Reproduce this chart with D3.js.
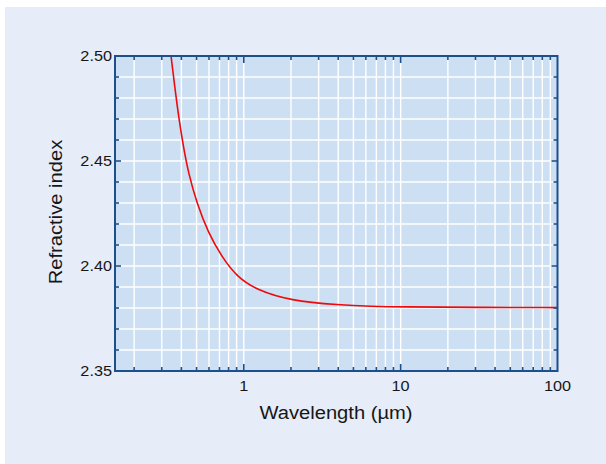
<!DOCTYPE html>
<html>
<head>
<meta charset="utf-8">
<script src="https://cdn.jsdelivr.net/npm/d3@7/dist/d3.min.js"></script>
<style>
  html, body { margin: 0; padding: 0; background: #ffffff; }
  svg { display: block; }
  text { font-family: "Liberation Sans", Arial, Helvetica, sans-serif; fill: #161616; }
</style>
</head>
<body>
<svg id="chart" width="606" height="464"></svg>
<script>
// ---- data ----
const wavelength = [0.344, 0.365, 0.387, 0.412, 0.444, 0.502, 0.595, 0.724, 0.902, 1.21, 1.97, 4.11, 6.5, 10, 30, 100];
const refractiveIndex = [2.4998, 2.4838, 2.4695, 2.4568, 2.4441, 2.4299, 2.4156, 2.4044, 2.3949, 2.3886, 2.3835, 2.3814, 2.3808, 2.3805, 2.3803, 2.3802];
const xDomain = [0.151, 100];
const yDomain = [2.35, 2.50];
const xTickLabels = [1, 10, 100];
const yTickLabels = [2.35, 2.40, 2.45, 2.50];
const xTitle = "Wavelength (µm)";
const yTitle = "Refractive index";

// ---- layout ----
const W = 606, H = 464;
const plot = { left: 115, right: 557.5, top: 56, bottom: 371 };
const axisColor = "#1d4f8b";
const stretch = 1.12;

const svg = d3.select("#chart");

svg.append("rect").attr("x", 5).attr("y", 7).attr("width", W - 5).attr("height", H - 7)
  .attr("fill", "#e6ecf8");

const x = d3.scaleLog().domain(xDomain).range([plot.left, plot.right]);
const y = d3.scaleLinear().domain(yDomain).range([plot.bottom, plot.top]);

svg.append("rect").attr("x", plot.left).attr("y", plot.top)
  .attr("width", plot.right - plot.left).attr("height", plot.bottom - plot.top)
  .attr("fill", "#cddff3");

// minor/major x positions (log)
const xAll = [];
[0.1, 1, 10].forEach(dec => { for (let k = 1; k <= 9; k++) { const v = dec * k; if (v > xDomain[0] && v < xDomain[1]) xAll.push(v); } });
const yAll = d3.range(0, 16).map(i => +(yDomain[0] + i * 0.01).toFixed(2));
const isMajorX = v => xTickLabels.includes(Math.round(v * 1000) / 1000);
const isMajorY = v => yTickLabels.some(t => Math.abs(t - v) < 1e-6);

const grid = svg.append("g");
grid.selectAll("line.vx").data(xAll).join("line")
  .attr("x1", d => x(d)).attr("x2", d => x(d))
  .attr("y1", plot.top).attr("y2", plot.bottom)
  .attr("stroke", "#ffffff").attr("stroke-width", 1.4);
grid.selectAll("line.hy").data(yAll.filter(v => v > yDomain[0] && v < yDomain[1])).join("line")
  .attr("x1", plot.left).attr("x2", plot.right)
  .attr("y1", d => y(d)).attr("y2", d => y(d))
  .attr("stroke", "#ffffff").attr("stroke-width", 1.4);

// curve
svg.append("clipPath").attr("id", "clip").append("rect")
  .attr("x", plot.left).attr("y", plot.top)
  .attr("width", plot.right - plot.left).attr("height", plot.bottom - plot.top);
const pts = wavelength.map((w, i) => [w, refractiveIndex[i]]);
const line = d3.line().x(d => x(d[0])).y(d => y(d[1])).curve(d3.curveBasis);
svg.append("path").datum(pts).attr("d", line)
  .attr("fill", "none").attr("stroke", "#ee0a0a").attr("stroke-width", 1.6)
  .attr("clip-path", "url(#clip)");

// ticks (inward on all four sides)
const ticks = svg.append("g").attr("stroke", axisColor).attr("stroke-width", 1.6);
xAll.forEach(v => {
  const len = isMajorX(v) ? 7 : 4;
  ticks.append("line").attr("x1", x(v)).attr("x2", x(v)).attr("y1", plot.bottom).attr("y2", plot.bottom - len);
  ticks.append("line").attr("x1", x(v)).attr("x2", x(v)).attr("y1", plot.top).attr("y2", plot.top + len);
});
yAll.forEach(v => {
  const len = isMajorY(v) ? 6 : 4;
  ticks.append("line").attr("y1", y(v)).attr("y2", y(v)).attr("x1", plot.left).attr("x2", plot.left + len);
  ticks.append("line").attr("y1", y(v)).attr("y2", y(v)).attr("x1", plot.right).attr("x2", plot.right - len);
});

// frame
svg.append("rect").attr("x", plot.left).attr("y", plot.top)
  .attr("width", plot.right - plot.left).attr("height", plot.bottom - plot.top)
  .attr("fill", "none").attr("stroke", axisColor).attr("stroke-width", 2);

function stretchText(sel) {
  sel.each(function () {
    const l = this.getComputedTextLength();
    d3.select(this).attr("textLength", l * stretch).attr("lengthAdjust", "spacingAndGlyphs");
  });
}

// tick labels
svg.append("g").selectAll("text").data(xTickLabels).join("text")
  .attr("x", d => x(d)).attr("y", 390.5)
  .attr("text-anchor", "middle").attr("font-size", 14.5)
  .text(d => d3.format("d")(d)).call(stretchText);
svg.append("g").selectAll("text").data(yTickLabels).join("text")
  .attr("x", 112).attr("y", d => y(d) + 5)
  .attr("text-anchor", "end").attr("font-size", 14.5)
  .text(d => d3.format(".2f")(d)).call(stretchText);

// axis titles
svg.append("text").attr("x", 336).attr("y", 419)
  .attr("text-anchor", "middle").attr("font-size", 18)
  .text(xTitle).call(stretchText);
svg.append("text").attr("transform", "translate(62,212) rotate(-90)")
  .attr("text-anchor", "middle").attr("font-size", 18)
  .text(yTitle).call(stretchText);
</script>
</body>
</html>
